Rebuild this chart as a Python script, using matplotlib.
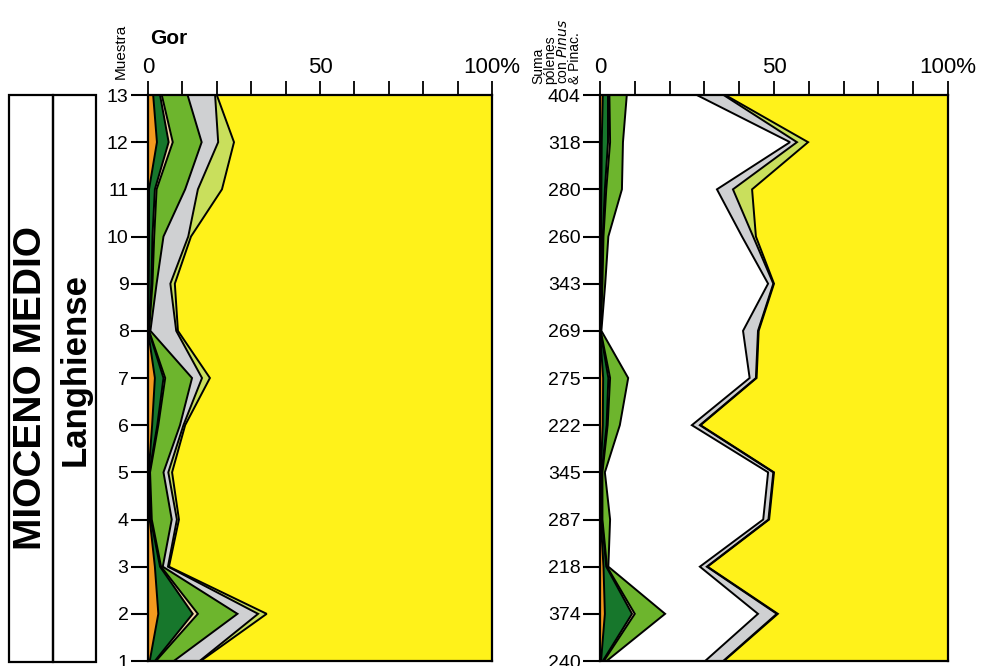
import matplotlib.pyplot as plt
from matplotlib.patches import Rectangle
import numpy as np

plt.rcParams['font.family'] = ['Liberation Sans', 'DejaVu Sans']

muestras = np.arange(1, 14)
sumas = ['240', '374', '218', '287', '345', '222', '275', '269', '343', '260', '280', '318', '404']

capas = ['naranja', 'verde oscuro', 'beige', 'verde', 'gris', 'verde claro']
colores = {'naranja': '#f39a1e', 'verde oscuro': '#17772c', 'beige': '#f3d7a6',
           'verde': '#6db52d', 'blanco': '#ffffff', 'gris': '#cfd0d2',
           'verde claro': '#c9df5c', 'amarillo': '#fff21a'}

# Gor: porcentajes por capa, muestras 1..13
gor_naranja = [0.5, 3.0, 2.0, 0.5, 0.2, 1.2, 2.0, 0.0, 0.2, 0.3, 0.3, 2.6, 1.5]
gor_verde_osc = [1.5, 10.0, 1.5, 0.3, 0.2, 1.5, 2.5, 0.2, 0.8, 1.0, 1.7, 3.4, 2.0]
gor_beige = [0.3, 1.5, 0.3, 0.3, 0.2, 0.3, 0.5, 0.1, 0.3, 0.5, 0.5, 1.2, 0.5]
gor_verde = [5.2, 11.5, 0.5, 5.8, 3.9, 6.3, 7.8, 0.4, 1.2, 2.7, 8.3, 8.4, 7.5]
gor_gris = [7.5, 6.0, 1.5, 1.5, 1.4, 1.0, 2.9, 7.5, 4.0, 7.2, 3.7, 4.8, 8.0]
gor_verde_cl = [0.3, 2.5, 0.3, 0.6, 1.1, 0.5, 2.3, 0.5, 1.3, 0.8, 7.0, 4.6, 0.5]

# Suma con Pinus: porcentajes por capa, muestras 1..13
pin_naranja = [0.3, 1.4, 1.0, 0.2, 0.2, 0.8, 0.9, 0.0, 0.2, 0.3, 0.4, 0.5, 0.8]
pin_verde_osc = [0.5, 7.8, 0.8, 0.3, 0.3, 1.1, 1.5, 0.1, 0.3, 0.5, 1.0, 1.8, 1.5]
pin_beige = [0.3, 0.8, 0.2, 0.2, 0.2, 0.3, 0.5, 0.1, 0.2, 0.2, 0.4, 0.6, 0.4]
pin_verde = [0.8, 8.7, 0.4, 2.2, 0.7, 3.5, 5.2, 0.2, 0.8, 1.4, 4.5, 3.7, 5.0]
pin_blanco = [28.3, 26.7, 26.3, 44.0, 46.9, 20.7, 34.9, 40.7, 46.8, 38.4, 27.3, 48.0, 20.1]
pin_gris = [5.2, 5.4, 2.0, 1.5, 1.5, 2.3, 1.8, 4.3, 1.5, 3.2, 4.6, 2.0, 7.7]
pin_verde_cl = [0.2, 0.3, 0.2, 0.2, 0.2, 0.2, 0.2, 0.2, 0.2, 0.8, 5.5, 3.2, 0.5]


def diagrama(ax, series, nombres, etiquetas):
    izq = np.zeros(len(muestras))
    for vals, nom in zip(series, nombres):
        der = izq + np.array(vals)
        ax.fill_betweenx(muestras, izq, der, facecolor=colores[nom], edgecolor='none')
        izq = der
    ax.fill_betweenx(muestras, izq, 100, facecolor=colores['amarillo'], edgecolor='none')
    tot = np.zeros(len(muestras))
    for vals in series:
        tot = tot + np.array(vals)
        ax.plot(tot, muestras, color='k', lw=1.4, solid_joinstyle='miter')
    ax.set_xlim(0, 100)
    ax.set_ylim(1, 13)
    ax.xaxis.tick_top()
    ax.set_xticks([0, 50, 100])
    ax.set_xticklabels(['0', '50', '100%'], fontsize=16)
    ax.set_xticks(np.arange(0, 101, 10), minor=True)
    ax.tick_params(axis='x', which='both', direction='out', length=10, width=1.3, pad=2)
    ax.set_yticks(muestras)
    ax.set_yticklabels(etiquetas, fontsize=14)
    ax.tick_params(axis='y', direction='out', length=12, width=1.5, pad=2)
    for s in ax.spines.values():
        s.set_linewidth(1.6)


fig = plt.figure(figsize=(9.95, 6.66), dpi=100)

ax1 = fig.add_axes([148 / 995, 1 - 661 / 666, 344 / 995, 566 / 666])
diagrama(ax1, [gor_naranja, gor_verde_osc, gor_beige, gor_verde, gor_gris, gor_verde_cl],
         capas, [str(m) for m in muestras])

ax2 = fig.add_axes([600 / 995, 1 - 661 / 666, 348 / 995, 566 / 666])
diagrama(ax2, [pin_naranja, pin_verde_osc, pin_beige, pin_verde, pin_blanco, pin_gris, pin_verde_cl],
         ['naranja', 'verde oscuro', 'beige', 'verde', 'blanco', 'gris', 'verde claro'], sumas)

fig.text(150 / 995, 1 - 38 / 666, 'Gor', fontsize=15, fontweight='bold', ha='left', va='center')
fig.text(121 / 995, 1 - 79 / 666, 'Muestra', fontsize=11, rotation=90, ha='center', va='bottom')
fig.text(557 / 995, 1 - 84 / 666, 'Suma\npólenes\ncon $\\it{Pinus}$\n& Pinac.', fontsize=10,
         rotation=90, ha='center', va='bottom', ma='left', linespacing=0.82)

# columna estratigrafica
axc = fig.add_axes([0, 0, 1, 1], zorder=-1)
axc.set_xlim(0, 995)
axc.set_ylim(666, 0)
axc.axis('off')
axc.add_patch(Rectangle((9, 95), 44, 567, fill=False, lw=1.6, ec='k'))
axc.add_patch(Rectangle((53, 95), 43, 567, fill=False, lw=1.6, ec='k'))
axc.text(31, 388, 'MIOCENO MEDIO', rotation=90, fontsize=28, fontweight='bold', ha='center', va='center')
axc.text(75, 370, 'Langhiense', rotation=90, fontsize=25, fontweight='bold', ha='center', va='center')

plt.savefig('out.png', dpi=100)
